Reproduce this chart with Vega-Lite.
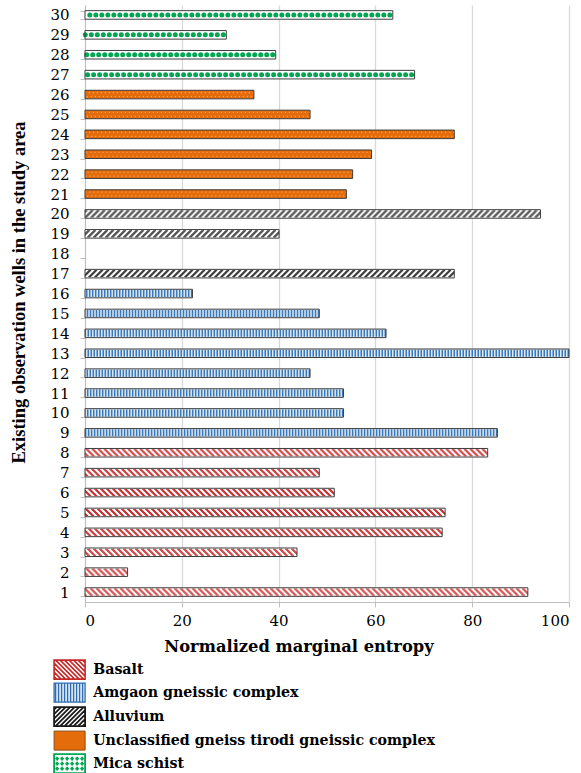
{
  "$schema": "https://vega.github.io/schema/vega-lite/v6.json",
  "width": 484,
  "height": 597,
  "autosize": {"type": "none"},
  "padding": {"left": 85, "top": 5, "right": 12, "bottom": 171},
  "background": "white",
  "config": {"view": {"stroke": null}, "font": "DejaVu Serif, serif"},
  "data": {
    "values": [
      {"well": 1, "rock": "Basalt", "entropy": 91.5},
      {"well": 2, "rock": "Basalt", "entropy": 8.8},
      {"well": 3, "rock": "Basalt", "entropy": 43.8},
      {"well": 4, "rock": "Basalt", "entropy": 73.8},
      {"well": 5, "rock": "Basalt", "entropy": 74.4},
      {"well": 6, "rock": "Basalt", "entropy": 51.5},
      {"well": 7, "rock": "Basalt", "entropy": 48.4},
      {"well": 8, "rock": "Basalt", "entropy": 83.2},
      {"well": 9, "rock": "Amgaon gneissic complex", "entropy": 85.2},
      {"well": 10, "rock": "Amgaon gneissic complex", "entropy": 53.4},
      {"well": 11, "rock": "Amgaon gneissic complex", "entropy": 53.4},
      {"well": 12, "rock": "Amgaon gneissic complex", "entropy": 46.5},
      {"well": 13, "rock": "Amgaon gneissic complex", "entropy": 100},
      {"well": 14, "rock": "Amgaon gneissic complex", "entropy": 62.2},
      {"well": 15, "rock": "Amgaon gneissic complex", "entropy": 48.4},
      {"well": 16, "rock": "Amgaon gneissic complex", "entropy": 22.2},
      {"well": 17, "rock": "Alluvium", "entropy": 76.3},
      {"well": 19, "rock": "Alluvium", "entropy": 40.1},
      {"well": 20, "rock": "Alluvium", "entropy": 94.1},
      {"well": 21, "rock": "Unclassified gneiss tirodi gneissic complex", "entropy": 54.0},
      {"well": 22, "rock": "Unclassified gneiss tirodi gneissic complex", "entropy": 55.3},
      {"well": 23, "rock": "Unclassified gneiss tirodi gneissic complex", "entropy": 59.2},
      {"well": 24, "rock": "Unclassified gneiss tirodi gneissic complex", "entropy": 76.3},
      {"well": 25, "rock": "Unclassified gneiss tirodi gneissic complex", "entropy": 46.5},
      {"well": 26, "rock": "Unclassified gneiss tirodi gneissic complex", "entropy": 34.9},
      {"well": 27, "rock": "Mica schist", "entropy": 68.1},
      {"well": 28, "rock": "Mica schist", "entropy": 39.4},
      {"well": 29, "rock": "Mica schist", "entropy": 29.2},
      {"well": 30, "rock": "Mica schist", "entropy": 63.6}
    ]
  },
  "encoding": {
    "y": {
      "field": "well",
      "type": "ordinal",
      "scale": {
        "domain": [30, 29, 28, 27, 26, 25, 24, 23, 22, 21, 20, 19, 18, 17, 16, 15, 14, 13, 12, 11, 10, 9, 8, 7, 6, 5, 4, 3, 2, 1],
        "paddingInner": 0.57,
        "paddingOuter": 0.285
      },
      "axis": {
        "title": "Existing observation wells in the study area",
        "titleFont": "Liberation Serif, Times New Roman, serif",
        "titleFontSize": 18.5,
        "titleFontWeight": "bold",
        "titleColor": "black",
        "titleX": -67,
        "titleY": 287,
        "titleAlign": "center",
        "titleBaseline": "middle",
        "labelFont": "DejaVu Serif, serif",
        "labelFontSize": 15,
        "labelColor": "black",
        "labelPadding": 11,
        "domainColor": "#BFBFBF",
        "tickColor": "#BFBFBF",
        "tickSize": 5,
        "tickBand": "extent",
        "grid": false
      }
    },
    "x": {
      "field": "entropy",
      "type": "quantitative",
      "scale": {"domain": [0, 100], "nice": false},
      "axis": {
        "title": "Normalized marginal entropy",
        "values": [0, 20, 40, 60, 80, 100],
        "titleFont": "DejaVu Serif, serif",
        "titleFontSize": 16.3,
        "titleFontWeight": "bold",
        "titleColor": "black",
        "titleX": 213.5,
        "titleY": 44,
        "titleAlign": "center",
        "titleBaseline": "middle",
        "labelFont": "DejaVu Serif, serif",
        "labelFontSize": 15,
        "labelColor": "black",
        "labelPadding": 6,
        "domainColor": "#BFBFBF",
        "tickColor": "#BFBFBF",
        "tickSize": 5,
        "grid": true,
        "gridColor": "#D9D9D9",
        "gridWidth": 1.3
      }
    }
  },
  "layer": [
    {
      "mark": {"type": "bar"},
      "encoding": {
        "fill": {
          "field": "rock",
          "type": "nominal",
          "scale": {
            "domain": ["Basalt", "Amgaon gneissic complex", "Alluvium", "Unclassified gneiss tirodi gneissic complex", "Mica schist"],
            "range": ["#ffffff", "#DCE9F6", "#ffffff", "#E46C0A", "#ffffff"]
          },
          "legend": {
            "orient": "none",
            "legendX": -22.5,
            "legendY": 657.5,
            "title": null,
            "padding": 0,
            "symbolSize": 4,
            "rowPadding": -2,
            "labelFont": "DejaVu Serif, serif",
            "labelFontSize": 14.2,
            "labelFontWeight": "bold",
            "labelColor": "black",
            "labelOffset": 16.5,
            "labelLimit": 500,
            "encode": {
              "symbols": {
                "update": {
                  "shape": {"signal": "datum.value === 'Basalt' ? 'M-15.5,-9.5H15.5V9.5H-15.5ZM-15.5,7L-13,9.5M-15.5,2.5L-8.5,9.5M-15.5,-2L-4,9.5M-15.5,-6.5L0.5,9.5M-14,-9.5L5,9.5M-9.5,-9.5L9.5,9.5M-5,-9.5L14,9.5M-0.5,-9.5L15.5,6.5M4,-9.5L15.5,2M8.5,-9.5L15.5,-2.5M13,-9.5L15.5,-7' : datum.value === 'Amgaon gneissic complex' ? 'M-15.5,-9.5H15.5V9.5H-15.5ZM-14,-9.5V9.5M-11,-9.5V9.5M-8,-9.5V9.5M-5,-9.5V9.5M-2,-9.5V9.5M1,-9.5V9.5M4,-9.5V9.5M7,-9.5V9.5M10,-9.5V9.5M13,-9.5V9.5' : datum.value === 'Alluvium' ? 'M-15.5,-9.5H15.5V9.5H-15.5ZM15.5,7L13,9.5M15.5,2.5L8.5,9.5M15.5,-2L4,9.5M15.5,-6.5L-0.5,9.5M14,-9.5L-5,9.5M9.5,-9.5L-9.5,9.5M5,-9.5L-14,9.5M0.5,-9.5L-15.5,6.5M-4,-9.5L-15.5,2M-8.5,-9.5L-15.5,-2.5M-13,-9.5L-15.5,-7' : datum.value === 'Mica schist' ? 'M-15.5,-9.5H15.5V9.5H-15.5ZM-14.3,-5H-10.7M-12.5,-6.8V-3.2M-9.3,-5H-5.7M-7.5,-6.8V-3.2M-4.3,-5H-0.7M-2.5,-6.8V-3.2M0.7,-5H4.3M2.5,-6.8V-3.2M5.7,-5H9.3M7.5,-6.8V-3.2M10.7,-5H14.3M12.5,-6.8V-3.2M-14.3,0H-10.7M-12.5,-1.8V1.8M-9.3,0H-5.7M-7.5,-1.8V1.8M-4.3,0H-0.7M-2.5,-1.8V1.8M0.7,0H4.3M2.5,-1.8V1.8M5.7,0H9.3M7.5,-1.8V1.8M10.7,0H14.3M12.5,-1.8V1.8M-14.3,5H-10.7M-12.5,3.2V6.8M-9.3,5H-5.7M-7.5,3.2V6.8M-4.3,5H-0.7M-2.5,3.2V6.8M0.7,5H4.3M2.5,3.2V6.8M5.7,5H9.3M7.5,3.2V6.8M10.7,5H14.3M12.5,3.2V6.8' : 'M-15.5,-9.5H15.5V9.5H-15.5Z'"},
                  "fill": {"signal": "datum.value === 'Basalt' ? '#ffffff' : datum.value === 'Amgaon gneissic complex' ? '#DCE9F6' : datum.value === 'Alluvium' ? '#ffffff' : datum.value === 'Mica schist' ? '#ffffff' : '#E46C0A'"},
                  "stroke": {"signal": "datum.value === 'Basalt' ? '#C62828' : datum.value === 'Amgaon gneissic complex' ? '#2E6DB0' : datum.value === 'Alluvium' ? '#1a1a1a' : datum.value === 'Mica schist' ? '#00A651' : '#8a4a12'"},
                  "strokeWidth": {"signal": "datum.value === 'Basalt' ? 1.6 : datum.value === 'Amgaon gneissic complex' ? 1.3 : datum.value === 'Alluvium' ? 1.8 : datum.value === 'Mica schist' ? 1.8 : 1"},
                  "opacity": {"value": 1}
                }
              }
            }
          }
        }
      }
    },
    {
      "transform": [{"filter": "datum.rock === 'Amgaon gneissic complex'"}],
      "mark": {"type": "rule", "stroke": "#3A78B8", "strokeWidth": 7, "strokeDash": [1.5, 1.5]},
      "encoding": {"x2": {"datum": 0}}
    },
    {
      "transform": [{"filter": "datum.rock === 'Unclassified gneiss tirodi gneissic complex'"}],
      "mark": {"type": "rule", "stroke": "#F6A868", "strokeWidth": 1.2, "strokeDash": [1.2, 2.8], "strokeDashOffset": 0, "yOffset": -2},
      "encoding": {"x2": {"datum": 0}}
    },
    {
      "transform": [{"filter": "datum.rock === 'Unclassified gneiss tirodi gneissic complex'"}],
      "mark": {"type": "rule", "stroke": "#F6A868", "strokeWidth": 1.2, "strokeDash": [1.2, 2.8], "strokeDashOffset": 2, "yOffset": 2},
      "encoding": {"x2": {"datum": 0}}
    },
    {
      "transform": [{"filter": "datum.rock === 'Mica schist'"}],
      "mark": {"type": "rule", "stroke": "#00A651", "strokeWidth": 5, "strokeCap": "round", "strokeDash": [0, 6], "strokeDashOffset": 3},
      "encoding": {"x2": {"datum": 0}}
    },
    {
      "transform": [{"filter": "datum.rock === 'Basalt'"}],
      "mark": {"type": "rule", "stroke": "#C62828", "strokeWidth": 1, "strokeDash": [3, 3], "strokeDashOffset": 3, "yOffset": -3},
      "encoding": {"x2": {"datum": 0}}
    },
    {
      "transform": [{"filter": "datum.rock === 'Basalt'"}],
      "mark": {"type": "rule", "stroke": "#C62828", "strokeWidth": 1, "strokeDash": [3, 3], "strokeDashOffset": 4, "yOffset": -2},
      "encoding": {"x2": {"datum": 0}}
    },
    {
      "transform": [{"filter": "datum.rock === 'Basalt'"}],
      "mark": {"type": "rule", "stroke": "#C62828", "strokeWidth": 1, "strokeDash": [3, 3], "strokeDashOffset": 5, "yOffset": -1},
      "encoding": {"x2": {"datum": 0}}
    },
    {
      "transform": [{"filter": "datum.rock === 'Basalt'"}],
      "mark": {"type": "rule", "stroke": "#C62828", "strokeWidth": 1, "strokeDash": [3, 3], "strokeDashOffset": 0, "yOffset": 0},
      "encoding": {"x2": {"datum": 0}}
    },
    {
      "transform": [{"filter": "datum.rock === 'Basalt'"}],
      "mark": {"type": "rule", "stroke": "#C62828", "strokeWidth": 1, "strokeDash": [3, 3], "strokeDashOffset": 1, "yOffset": 1},
      "encoding": {"x2": {"datum": 0}}
    },
    {
      "transform": [{"filter": "datum.rock === 'Basalt'"}],
      "mark": {"type": "rule", "stroke": "#C62828", "strokeWidth": 1, "strokeDash": [3, 3], "strokeDashOffset": 2, "yOffset": 2},
      "encoding": {"x2": {"datum": 0}}
    },
    {
      "transform": [{"filter": "datum.rock === 'Basalt'"}],
      "mark": {"type": "rule", "stroke": "#C62828", "strokeWidth": 1, "strokeDash": [3, 3], "strokeDashOffset": 3, "yOffset": 3},
      "encoding": {"x2": {"datum": 0}}
    },
    {
      "transform": [{"filter": "datum.rock === 'Alluvium'"}],
      "mark": {"type": "rule", "stroke": "#222222", "strokeWidth": 1, "strokeDash": [3, 3], "strokeDashOffset": 3, "yOffset": -3},
      "encoding": {"x2": {"datum": 0}}
    },
    {
      "transform": [{"filter": "datum.rock === 'Alluvium'"}],
      "mark": {"type": "rule", "stroke": "#222222", "strokeWidth": 1, "strokeDash": [3, 3], "strokeDashOffset": 2, "yOffset": -2},
      "encoding": {"x2": {"datum": 0}}
    },
    {
      "transform": [{"filter": "datum.rock === 'Alluvium'"}],
      "mark": {"type": "rule", "stroke": "#222222", "strokeWidth": 1, "strokeDash": [3, 3], "strokeDashOffset": 1, "yOffset": -1},
      "encoding": {"x2": {"datum": 0}}
    },
    {
      "transform": [{"filter": "datum.rock === 'Alluvium'"}],
      "mark": {"type": "rule", "stroke": "#222222", "strokeWidth": 1, "strokeDash": [3, 3], "strokeDashOffset": 0, "yOffset": 0},
      "encoding": {"x2": {"datum": 0}}
    },
    {
      "transform": [{"filter": "datum.rock === 'Alluvium'"}],
      "mark": {"type": "rule", "stroke": "#222222", "strokeWidth": 1, "strokeDash": [3, 3], "strokeDashOffset": 5, "yOffset": 1},
      "encoding": {"x2": {"datum": 0}}
    },
    {
      "transform": [{"filter": "datum.rock === 'Alluvium'"}],
      "mark": {"type": "rule", "stroke": "#222222", "strokeWidth": 1, "strokeDash": [3, 3], "strokeDashOffset": 4, "yOffset": 2},
      "encoding": {"x2": {"datum": 0}}
    },
    {
      "transform": [{"filter": "datum.rock === 'Alluvium'"}],
      "mark": {"type": "rule", "stroke": "#222222", "strokeWidth": 1, "strokeDash": [3, 3], "strokeDashOffset": 3, "yOffset": 3},
      "encoding": {"x2": {"datum": 0}}
    },
    {
      "mark": {"type": "bar", "fill": "transparent", "stroke": "#3d3d3d", "strokeWidth": 1},
      "encoding": {}
    }
  ]
}
